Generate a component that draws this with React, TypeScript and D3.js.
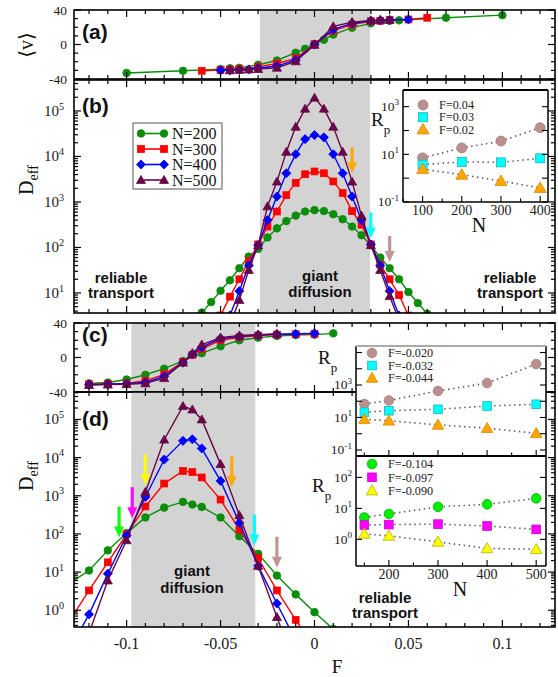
import React, { useEffect, useRef } from "react";
import * as d3 from "d3";

// ---- main panels: four chain lengths
const seriesLabels = ["N=200", "N=300", "N=400", "N=500"];
const seriesColors = ["#0b8c0b", "#ff0000", "#0000ff", "#670748"];
const seriesSymbols = ["circle", "square", "diamond", "triangle"];

// (a) <v> vs F
const aF = [
  [-0.1, -0.07, -0.05, -0.045, -0.04, -0.03, -0.02, -0.01, -0.005, 0, 0.005, 0.01, 0.02, 0.03, 0.04, 0.045, 0.07, 0.1],
  [-0.06, -0.05, -0.045, -0.04, -0.03, -0.02, -0.01, 0, 0.01, 0.02, 0.03, 0.035, 0.04, 0.05, 0.06],
  [-0.05, -0.045, -0.04, -0.035, -0.03, -0.02, -0.01, 0, 0.01, 0.02, 0.03, 0.035, 0.04, 0.05],
  [-0.045, -0.04, -0.035, -0.03, -0.02, -0.01, 0, 0.01, 0.02, 0.03, 0.035, 0.04],
];
const aV = [
  [-33, -30.5, -28.5, -27.5, -27, -23.5, -18.5, -9.5, -5, 0.5, 5.5, 11.5, 19.5, 24.5, 27.5, 28, 31, 34],
  [-30.5, -29.5, -29, -28.5, -26, -22, -16, 0.5, 16, 23, 27, 27.5, 28.5, 29, 31],
  [-30, -30, -29.5, -29, -27.5, -25, -18, 0, 17.5, 24.5, 27.5, 28, 28.5, 29],
  [-30, -29.5, -29, -28.5, -27, -19.5, -0.5, 21, 26, 28, 28.5, 28.5],
];

// (b) Deff vs F
const bF = [
  [-0.065, -0.06, -0.055, -0.05, -0.045, -0.04, -0.035, -0.03, -0.025, -0.02, -0.015, -0.01, -0.005, 0, 0.005, 0.01, 0.015, 0.02, 0.025, 0.03, 0.035, 0.04, 0.045, 0.05, 0.055, 0.06, 0.065],
  [-0.05, -0.045, -0.04, -0.035, -0.03, -0.025, -0.02, -0.015, -0.01, -0.005, 0, 0.005, 0.01, 0.015, 0.02, 0.025, 0.03, 0.035, 0.04, 0.045, 0.05],
  [-0.045, -0.04, -0.035, -0.03, -0.025, -0.02, -0.015, -0.01, -0.005, 0, 0.005, 0.01, 0.015, 0.02, 0.025, 0.03, 0.035, 0.04, 0.045],
  [-0.045, -0.04, -0.035, -0.03, -0.025, -0.02, -0.015, -0.01, -0.005, 0, 0.005, 0.01, 0.015, 0.02, 0.025, 0.03, 0.035, 0.04, 0.045],
];
const bD = [
  [2.0, 3.7, 6.3, 11.2, 19, 35, 63, 93, 166, 263, 380, 501, 617, 661, 631, 537, 417, 288, 186, 112, 60, 35, 20, 10.5, 6.0, 3.5, 2.0],
  [3.2, 8.3, 20, 50, 117, 288, 617, 1410, 2630, 4070, 4680, 4270, 2820, 1580, 630, 316, 117, 42, 20, 9, 3.2],
  [3.2, 11, 40, 112, 400, 1320, 4270, 11200, 24000, 29500, 26300, 11200, 4270, 1320, 400, 117, 40, 11, 3.2],
  [2, 7, 32, 112, 800, 2800, 12600, 44700, 112000, 195000, 112000, 44700, 12600, 2800, 500, 112, 32, 8.5, 2.5],
];

// (c) <v> vs F
const cF = [
  [-0.12, -0.11, -0.1, -0.09, -0.08, -0.07, -0.06, -0.05, -0.04, -0.03, -0.02, -0.01, 0, 0.01],
  [-0.12, -0.11, -0.1, -0.09, -0.08, -0.07, -0.065, -0.06, -0.05, -0.04, -0.03, -0.02, -0.01, 0],
  [-0.12, -0.11, -0.1, -0.09, -0.08, -0.07, -0.065, -0.06, -0.05, -0.04, -0.03, -0.02, -0.01, 0],
  [-0.12, -0.11, -0.1, -0.09, -0.08, -0.07, -0.065, -0.06, -0.05, -0.04, -0.03, -0.02],
];
const cV = [
  [-30, -29, -25.5, -20, -13, -4, 5, 13, 20, 23, 25, 26, 26.5, 28],
  [-31, -30.5, -30, -27, -19.5, -5, 3, 10, 20, 23.5, 25.5, 26.5, 27, 27.5],
  [-31.5, -31, -30.5, -29, -22, -6, 4, 12, 22, 24.5, 26, 27, 27.5, 28],
  [-32, -31.5, -31, -30, -24, -6, 5, 15, 23, 25.5, 26.5, 27.5],
];

// (d) Deff vs F
const dF = [
  [-0.13, -0.12, -0.11, -0.1, -0.09, -0.08, -0.07, -0.065, -0.06, -0.05, -0.04, -0.03, -0.02, -0.01, 0, 0.01],
  [-0.13, -0.12, -0.11, -0.1, -0.09, -0.08, -0.07, -0.065, -0.06, -0.05, -0.04, -0.03, -0.02, -0.01, 0],
  [-0.13, -0.12, -0.11, -0.1, -0.09, -0.08, -0.07, -0.065, -0.06, -0.05, -0.04, -0.03, -0.02, -0.01],
  [-0.12, -0.11, -0.1, -0.09, -0.08, -0.07, -0.065, -0.06, -0.05, -0.04, -0.03, -0.02, -0.01],
];
const dD = [
  [5.2, 11, 37, 105, 270, 490, 690, 590, 510, 270, 87, 30, 8.1, 2.6, 0.89, 0.32],
  [0.56, 3.3, 18, 98, 525, 2090, 4470, 4170, 3020, 794, 129, 23, 3.3, 0.56, 0.1],
  [0.1, 0.78, 9.1, 91, 930, 8900, 27500, 30200, 17400, 2450, 195, 14.5, 1.5, 0.16],
  [0.25, 6, 68, 1260, 29500, 224000, 182000, 100000, 6760, 309, 14.5, 0.66, 0.03],
];

// grey "giant diffusion" windows
const bandAB = [-0.029, 0.0295];
const bandCD = [-0.0975, -0.0315];

// arrows marking the forces used in the insets
const bArrowF = [0.02, 0.03, 0.04];
const bArrowD = [4270, 158, 48];
const bArrowColors = ["#ffa500", "#00ffff", "#bc8f8f"];
const dArrowF = [-0.104, -0.097, -0.09, -0.044, -0.032, -0.02];
const dArrowD = [81, 257, 1900, 1660, 50, 13];
const dArrowColors = ["#00ff00", "#ff00ff", "#ffff00", "#ffa500", "#00ffff", "#bc8f8f"];

// inset in (b): Rp vs N
const inBN = [100, 200, 300, 400];
const inBLabels = ["F=0.04", "F=0.03", "F=0.02"];
const inBRp = [
  [7.1, 18.6, 36, 131],
  [3.7, 4.8, 4.6, 6.8],
  [2.4, 1.4, 0.76, 0.39],
];

// insets in (c)/(d)
const inDN = [150, 200, 300, 400, 500];
const inDUpLabels = ["F=-0.020", "F=-0.032", "F=-0.044"];
const inDUpRp = [
  [68, 112, 427, 1320, 19500],
  [21, 26, 32, 51, 65],
  [7.8, 6.3, 3.5, 2.2, 1.07],
];
const inDLoLabels = ["F=-0.104", "F=-0.097", "F=-0.090"];
const inDLoRp = [
  [5.1, 6.6, 11.2, 13.5, 21],
  [2.9, 3.0, 3.1, 2.7, 2.1],
  [1.5, 1.3, 0.83, 0.51, 0.48],
];

const insetSymbols = ["circle", "square", "triangle"];
const inUpFill = ["#bc8f8f", "#00ffff", "#ffa500"];
const inUpStroke = ["#a87c7c", "#19b5b5", "#d88a00"];
const inLoFill = ["#00ee00", "#ff00ff", "#ffff00"];
const inLoStroke = ["#00b000", "#c800c8", "#b0b000"];

const serif = "'Liberation Serif','DejaVu Serif',serif";
const sans = "'Liberation Sans','DejaVu Sans',sans-serif";

function marker(g: any, sym: string, cx: number, cy: number, r: number, fill: string, stroke: string) {
  let el;
  if (sym === "circle") {
    el = g.append("circle").attr("cx", cx).attr("cy", cy).attr("r", r);
  } else if (sym === "square") {
    const s = r * 0.9;
    el = g.append("rect").attr("x", cx - s).attr("y", cy - s).attr("width", 2 * s).attr("height", 2 * s);
  } else if (sym === "diamond") {
    const s = r * 1.2;
    el = g.append("path").attr("d", `M${cx},${cy - s}L${cx + s},${cy}L${cx},${cy + s}L${cx - s},${cy}Z`);
  } else {
    const s = r * 1.2;
    el = g.append("path").attr("d", `M${cx},${cy - s}L${cx + s},${cy + s * 0.75}L${cx - s},${cy + s * 0.75}Z`);
  }
  el.attr("fill", fill).attr("stroke", stroke).attr("stroke-width", 0.8);
}

function powLabel(g: any, x: number, y: number, k: number, size: number) {
  const t = g.append("text").attr("x", x).attr("y", y + size * 0.33).attr("text-anchor", "end")
    .attr("font-family", serif).attr("font-size", size).attr("fill", "#1a1a1a");
  t.append("tspan").text("10");
  t.append("tspan").attr("dy", -size * 0.42).attr("font-size", size * 0.68).text(String(k));
}

function draw(svgEl: SVGSVGElement) {
  const svg = d3.select(svgEl);
  svg.selectAll("*").remove();

  const X0 = 74, X1 = 555;
  const x = d3.scaleLinear().domain([-0.128, 0.128]).range([X0, X1]);
  const ya = d3.scaleLinear().domain([-40, 40]).range([79, 10]);
  const yb = d3.scaleLog().domain([Math.pow(10, 0.56), Math.pow(10, 5.68)]).range([313, 80]);
  const yc = d3.scaleLinear().domain([-40, 40]).range([392, 323]);
  const yd = d3.scaleLog().domain([Math.pow(10, -0.44), Math.pow(10, 5.72)]).range([627, 392]);

  const defs = svg.append("defs");

  function panel(id: string, y: any, band: number[], Fs: number[][], Vs: number[][]) {
    const [bot, top] = y.range();
    defs.append("clipPath").attr("id", id).append("rect")
      .attr("x", X0).attr("y", top).attr("width", X1 - X0).attr("height", bot - top);
    svg.append("rect").attr("x", x(band[0])).attr("y", top)
      .attr("width", x(band[1]) - x(band[0])).attr("height", bot - top).attr("fill", "#d3d3d3");
    const g = svg.append("g").attr("clip-path", `url(#${id})`);
    Fs.forEach((fs, i) => {
      const pts: [number, number][] = fs.map((f, j) => [x(f), y(Vs[i][j])]);
      g.append("path").attr("d", d3.line()(pts)).attr("fill", "none")
        .attr("stroke", seriesColors[i]).attr("stroke-width", 1.4);
      pts.forEach((p) => marker(g, seriesSymbols[i], p[0], p[1], 3.8, seriesColors[i], seriesColors[i]));
    });
  }

  function frame(y: any, isLog: boolean) {
    const [bot, top] = y.range();
    const g = svg.append("g").attr("stroke", "#000");
    g.append("rect").attr("x", X0).attr("y", top).attr("width", X1 - X0).attr("height", bot - top)
      .attr("fill", "none").attr("stroke-width", 1.6);
    d3.range(-12, 13).forEach((i) => {
      const len = i % 5 === 0 ? 7 : 4;
      const px = x(i / 100);
      g.append("line").attr("x1", px).attr("x2", px).attr("y1", top).attr("y2", top + len).attr("stroke-width", 1.2);
      g.append("line").attr("x1", px).attr("x2", px).attr("y1", bot).attr("y2", bot - len).attr("stroke-width", 1.2);
    });
    const ticks: { v: number; major: boolean }[] = [];
    if (isLog) {
      const [lo, hi] = y.domain().map((d: number) => Math.log10(d));
      for (let k = Math.floor(lo); k <= Math.ceil(hi); k++) {
        for (let m = 1; m < 10; m++) {
          const v = m * Math.pow(10, k);
          const l = Math.log10(v);
          if (l >= lo && l <= hi) ticks.push({ v, major: m === 1 });
        }
      }
    } else {
      d3.range(-40, 41, 10).forEach((v) => ticks.push({ v, major: v % 40 === 0 }));
    }
    ticks.forEach((t) => {
      const py = y(t.v);
      const len = t.major ? 7 : 4;
      g.append("line").attr("x1", X0).attr("x2", X0 + len).attr("y1", py).attr("y2", py).attr("stroke-width", 1.2);
      g.append("line").attr("x1", X1).attr("x2", X1 - len).attr("y1", py).attr("y2", py).attr("stroke-width", 1.2);
      if (t.major) {
        if (isLog) {
          powLabel(svg, X0 - 10, py, Math.round(Math.log10(t.v)), 15);
        } else {
          svg.append("text").attr("x", X0 - 7).attr("y", py + 4.5).attr("text-anchor", "end")
            .attr("font-family", serif).attr("font-size", 13.5).attr("fill", "#1a1a1a").text(String(t.v));
        }
      }
    });
  }

  function arrows(y: any, Fs: number[], Ds: number[], colors: string[], len: number) {
    Fs.forEach((f, i) => {
      const px = x(f);
      const tip = y(Ds[i]);
      svg.append("path")
        .attr("d", `M${px - 1.6},${tip - len}L${px + 1.6},${tip - len}L${px + 1.6},${tip - 11}L${px + 5},${tip - 11}L${px},${tip}L${px - 5},${tip - 11}L${px - 1.6},${tip - 11}Z`)
        .attr("fill", colors[i]).attr("opacity", 0.95);
    });
  }

  function label(txt: string, px: number, py: number) {
    svg.append("text").attr("x", px).attr("y", py).attr("font-family", sans).attr("font-weight", "bold")
      .attr("font-size", 21).attr("fill", "#111").text(txt);
  }

  function twoLine(a: string, b: string, cx: number, y1: number, y2: number) {
    [a, b].forEach((t, i) => {
      svg.append("text").attr("x", cx).attr("y", i === 0 ? y1 : y2).attr("text-anchor", "middle")
        .attr("font-family", sans).attr("font-weight", "bold").attr("font-size", 15).attr("fill", "#111").text(t);
    });
  }

  function yTitle(kind: string, cy: number) {
    const t = svg.append("text").attr("transform", `translate(33,${cy}) rotate(-90)`).attr("text-anchor", "middle")
      .attr("font-family", serif).attr("font-size", 20).attr("fill", "#111");
    if (kind === "v") {
      t.text("\u27e8v\u27e9");
    } else {
      t.append("tspan").text("D");
      t.append("tspan").attr("dy", 5).attr("font-size", 14).text("eff");
    }
  }

  // panels
  panel("clipA", ya, bandAB, aF, aV);
  frame(ya, false);
  panel("clipB", yb, bandAB, bF, bD);
  frame(yb, true);
  arrows(yb, bArrowF, bArrowD, bArrowColors, 26);
  panel("clipC", yc, bandCD, cF, cV);
  frame(yc, false);
  panel("clipD", yd, bandCD, dF, dD);
  frame(yd, true);
  arrows(yd, dArrowF, dArrowD, dArrowColors, 31);

  label("(a)", 82, 39);
  label("(b)", 82, 113);
  label("(c)", 82, 342);
  label("(d)", 82, 426);

  yTitle("v", 45);
  yTitle("D", 180);
  yTitle("D", 476);

  // bottom axis
  [-0.1, -0.05, 0, 0.05, 0.1].forEach((v) => {
    svg.append("text").attr("x", x(v)).attr("y", 649).attr("text-anchor", "middle")
      .attr("font-family", serif).attr("font-size", 16).attr("fill", "#1a1a1a").text(String(v));
  });
  svg.append("text").attr("x", x(0.012)).attr("y", 673).attr("text-anchor", "middle")
    .attr("font-family", serif).attr("font-size", 19).attr("fill", "#111").text("F");

  twoLine("reliable", "transport", 121, 283, 298);
  twoLine("giant", "diffusion", 320, 281, 297);
  twoLine("reliable", "transport", 510, 283, 298);
  twoLine("giant", "diffusion", 192, 576, 593);
  twoLine("reliable", "transport", 385, 603, 618);

  // legend of (b)
  const lg = svg.append("g");
  lg.append("rect").attr("x", 133).attr("y", 123).attr("width", 89).attr("height", 66)
    .attr("fill", "#fff").attr("stroke", "#555").attr("stroke-width", 1);
  seriesLabels.forEach((s, i) => {
    const ry = 133.5 + i * 15.5;
    lg.append("line").attr("x1", 141).attr("x2", 164).attr("y1", ry).attr("y2", ry)
      .attr("stroke", seriesColors[i]).attr("stroke-width", 1.6);
    marker(lg, seriesSymbols[i], 141, ry, 3.8, seriesColors[i], seriesColors[i]);
    marker(lg, seriesSymbols[i], 164, ry, 3.8, seriesColors[i], seriesColors[i]);
    lg.append("text").attr("x", 172).attr("y", ry + 5.5).attr("font-family", serif).attr("font-size", 16)
      .attr("fill", "#111").text(s);
  });

  // generic inset
  function inset(
    xs: any, ys: any, Ns: number[], data: number[][], fills: string[], strokes: string[],
    labels: string[], legX: number, legY: number, legDy: number, r: number,
    labelDecades: number[], xTickVals: number[], xMajor: (n: number) => boolean, showXLabels: boolean, topStroke: string
  ) {
    const [l, rr] = xs.range();
    const [b, t] = ys.range();
    const g = svg.append("g");
    g.append("rect").attr("x", l).attr("y", t).attr("width", rr - l).attr("height", b - t).attr("fill", "#fff");
    data.forEach((row) => {
      const pts: [number, number][] = row.map((v, j) => [xs(Ns[j]), ys(v)]);
      g.append("path").attr("d", d3.line()(pts)).attr("fill", "none").attr("stroke", "#555")
        .attr("stroke-width", 1.6).attr("stroke-dasharray", "1.4,3.6");
    });
    data.forEach((row, i) => {
      row.forEach((v, j) => marker(g, insetSymbols[i], xs(Ns[j]), ys(v), r, fills[i], strokes[i]));
    });
    labels.forEach((s, i) => {
      const ry = legY + i * legDy;
      marker(g, insetSymbols[i], legX, ry, r, fills[i], strokes[i]);
      g.append("text").attr("x", legX + 16).attr("y", ry + 4.2).attr("font-family", serif).attr("font-size", 12.2)
        .attr("fill", "#222").text(s);
    });
    const fg = g.append("g").attr("stroke", "#000");
    fg.append("line").attr("x1", l).attr("x2", l).attr("y1", t).attr("y2", b).attr("stroke-width", 1.5);
    fg.append("line").attr("x1", rr).attr("x2", rr).attr("y1", t).attr("y2", b).attr("stroke-width", 1.5);
    fg.append("line").attr("x1", l).attr("x2", rr).attr("y1", b).attr("y2", b).attr("stroke-width", 1.5);
    fg.append("line").attr("x1", l).attr("x2", rr).attr("y1", t).attr("y2", t).attr("stroke-width", 1.8)
      .attr("stroke", topStroke);
    const [lo, hi] = ys.domain().map((d: number) => Math.log10(d));
    for (let k = Math.ceil(lo); k <= Math.floor(hi); k++) {
      const py = ys(Math.pow(10, k));
      fg.append("line").attr("x1", l).attr("x2", l + 6).attr("y1", py).attr("y2", py).attr("stroke-width", 1.1);
      fg.append("line").attr("x1", rr).attr("x2", rr - 6).attr("y1", py).attr("y2", py).attr("stroke-width", 1.1);
      if (labelDecades.includes(k)) powLabel(svg, l - 4, py, k, 13.5);
    }
    xTickVals.forEach((n) => {
      const px = xs(n);
      const len = xMajor(n) ? 6 : 3.5;
      fg.append("line").attr("x1", px).attr("x2", px).attr("y1", b).attr("y2", b - len).attr("stroke-width", 1.1);
      if (showXLabels && xMajor(n)) {
        svg.append("text").attr("x", px).attr("y", b + 13).attr("text-anchor", "middle")
          .attr("font-family", serif).attr("font-size", 14).attr("fill", "#1a1a1a").text(String(n));
      }
    });
  }

  function rp(px: number, py: number) {
    const t = svg.append("text").attr("x", px).attr("y", py).attr("font-family", serif).attr("font-size", 19).attr("fill", "#111");
    t.append("tspan").text("R");
    t.append("tspan").attr("dy", 8).attr("font-size", 13).text("p");
  }

  // inset (b)
  const ibx = d3.scaleLinear().domain([50, 420]).range([403, 548]);
  const iby = d3.scaleLog().domain([0.1, Math.pow(10, 3.7)]).range([202, 90]);
  inset(ibx, iby, inBN, inBRp, inUpFill, inUpStroke, inBLabels, 423, 105, 12.2, 5,
    [3, 1, -1], d3.range(50, 421, 50), (n) => n % 100 === 0, true, "#000");
  rp(371, 126);
  svg.append("text").attr("x", 479).attr("y", 232).attr("text-anchor", "middle")
    .attr("font-family", serif).attr("font-size", 20).attr("fill", "#111").text("N");

  // insets (c)/(d)
  const idx = d3.scaleLinear().domain([133, 520]).range([356, 546]);
  const idyU = d3.scaleLog().domain([Math.pow(10, -1.37), Math.pow(10, 5.4)]).range([456, 346]);
  const idyL = d3.scaleLog().domain([Math.pow(10, -0.86), Math.pow(10, 2.69)]).range([566, 456]);
  inset(idx, idyU, inDN, inDUpRp, inUpFill, inUpStroke, inDUpLabels, 372, 353, 12.5, 4.8,
    [3, 1, -1], d3.range(150, 501, 50), (n) => n % 100 === 0, false, "#aaa");
  inset(idx, idyL, inDN, inDLoRp, inLoFill, inLoStroke, inDLoLabels, 372, 464, 13.3, 4.8,
    [2, 1, 0], d3.range(150, 501, 50), (n) => n % 100 === 0, true, "#000");
  rp(318, 364);
  rp(312, 492);
  svg.append("text").attr("x", 460).attr("y", 596).attr("text-anchor", "middle")
    .attr("font-family", serif).attr("font-size", 20).attr("fill", "#111").text("N");
}

export default function App() {
  const ref = useRef<SVGSVGElement>(null);
  useEffect(() => {
    if (ref.current) draw(ref.current);
  }, []);
  return (
    <svg
      ref={ref}
      width={558}
      height={677}
      style={{ position: "absolute", left: 0, top: 0, background: "#fff" }}
    />
  );
}
